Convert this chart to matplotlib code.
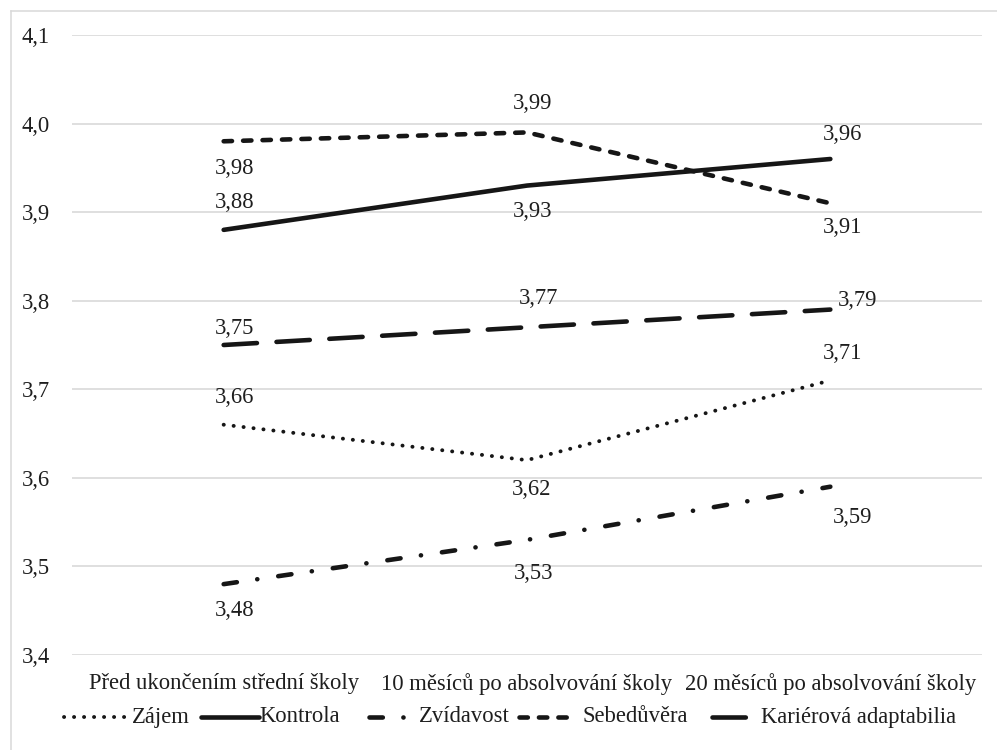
import matplotlib
matplotlib.use("Agg")
import matplotlib.pyplot as plt
from matplotlib.lines import Line2D
from matplotlib.ticker import FuncFormatter

plt.rcParams['font.family'] = ['Liberation Serif', 'DejaVu Serif']
plt.rcParams['lines.scale_dashes'] = False

categories = ["Před ukončením střední školy",
              "10 měsíců po absolvování školy",
              "20 měsíců po absolvování školy"]
series_names = ["Zájem", "Kontrola", "Zvídavost", "Sebedůvěra", "Kariérová adaptabilia"]
zajem = [3.66, 3.62, 3.71]
kontrola = [3.88, 3.93, 3.96]
zvidavost = [3.48, 3.53, 3.59]
sebeduvera = [3.98, 3.99, 3.91]
karierova = [3.75, 3.77, 3.79]
yticks = [3.4, 3.5, 3.6, 3.7, 3.8, 3.9, 4.0, 4.1]

series = [zajem, kontrola, zvidavost, sebeduvera, karierova]

# styles
ink = '#161616'
txt = '#1e1e1e'
styles = [
    dict(lw=2.8, dashes=(0.1, 7.1)),
    dict(lw=3.3, linestyle='-'),
    dict(lw=3.3, dashes=(9.6, 14.8, 0.1, 15.2)),
    dict(lw=3.3, dashes=(6.0, 8.0)),
    dict(lw=3.3, dashes=(24.0, 14.1)),
]
# label offsets in pixels (dx, dy up)
offsets = [
    [(11, 27), (5, -29), (12, 27)],
    [(11, 27), (6, -26), (12, 25)],
    [(11, -26), (7, -34), (22, -31)],
    [(11, -27), (6, 29), (12, -24)],
    [(11, 17), (11, 29), (27, 9)],
]

W, H = 997, 750
FS = 16.3
fig = plt.figure(figsize=(W / 100, H / 100), dpi=100)
ax = fig.add_axes([72 / W, 1 - 655 / H, (982 - 72) / W, (655 - 35) / H])

x = list(range(len(categories)))
for vals, st, offs in zip(series, styles, offsets):
    kw = dict(color=ink, solid_capstyle='round', dash_capstyle='round')
    kw.update(st)
    ax.plot(x, vals, **kw)
    for xi, v, (dx, dy) in zip(x, vals, offs):
        ax.annotate(f"{v:.2f}".replace('.', ','), (xi, v),
                    xytext=(dx * 0.72, dy * 0.72), textcoords='offset points',
                    ha='center', va='center', fontsize=FS, color=txt)

ax.set_xlim(-0.5, 2.5)
ax.set_ylim(3.4, 4.1)
ax.set_yticks(yticks)
ax.yaxis.set_major_formatter(FuncFormatter(lambda v, p: f"{v:.1f}".replace('.', ',')))
ax.set_xticks(x)
ax.set_xticklabels(categories)
ax.tick_params(axis='both', length=0, labelsize=FS, labelcolor=txt)
ax.tick_params(axis='y', pad=16)
ax.tick_params(axis='x', pad=13)
ax.grid(axis='y', color='#d9d9d9', lw=1.2)
ax.set_axisbelow(True)
for s in ax.spines.values():
    s.set_visible(False)

# legend drawn manually
handle_x = [(64, 126), (201, 259), (369, 412), (519, 576), (712, 752)]
text_x = [132, 259, 419, 582, 761]
ly = 1 - 717 / H
for (hx0, hx1), tx, st, name in zip(handle_x, text_x, styles, series_names):
    kw = dict(color=ink, solid_capstyle='round', dash_capstyle='round')
    kw.update(st)
    fig.add_artist(Line2D([hx0 / W, hx1 / W], [ly, ly], transform=fig.transFigure, **kw))
    fig.text(tx / W, ly, name, ha='left', va='center', fontsize=FS, color=txt)

# outer chart border (partially cropped)
fig.add_artist(Line2D([10.5 / W, 10.5 / W], [0, 1 - 11 / H], transform=fig.transFigure,
                      color='#d9d9d9', lw=1.1))
fig.add_artist(Line2D([10.5 / W, 1], [1 - 11 / H, 1 - 11 / H], transform=fig.transFigure,
                      color='#d9d9d9', lw=1.1))

fig.savefig("out.png", dpi=100)
